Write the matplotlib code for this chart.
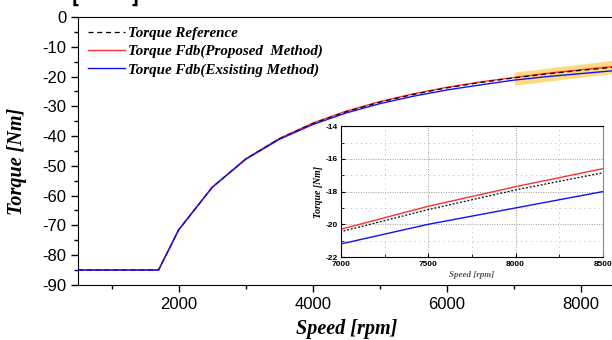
import matplotlib
matplotlib.use('Agg')
import matplotlib.pyplot as plt
from matplotlib.ticker import MultipleLocator

plt.rcParams['axes.unicode_minus'] = False

# 回転数 [rpm]
speed = [500, 1700, 2000, 2500, 3000, 3500, 4000, 4500, 5000, 5500, 6000, 6500, 7000, 7500, 8000, 8500]
# トルク指令 / 提案手法 / 既存手法 [Nm]
torque_ref = [-85, -85, -71.5, -57.2, -47.7, -40.9, -35.8, -31.8, -28.6, -26.0, -23.8, -22.0, -20.45, -19.1, -17.9, -16.85]
torque_prop = [-85, -85, -71.5, -57.2, -47.6, -40.8, -35.6, -31.6, -28.4, -25.8, -23.6, -21.8, -20.3, -18.9, -17.7, -16.6]
torque_exist = [-85, -85, -71.5, -57.2, -47.8, -41.1, -36.1, -32.2, -29.1, -26.6, -24.5, -22.8, -21.2, -20.0, -19.0, -18.0]

# 拡大範囲のハイライト
hl_speed = [7000, 8500]
hl_low = [-22.9, -18.9]
hl_high = [-18.5, -14.5]

serif = 'Liberation Serif'

fig = plt.figure(figsize=(6.12, 3.4), dpi=100)
ax = fig.add_axes([0.1275, 0.162, 0.877, 0.788])

ax.fill_between(hl_speed, hl_low, hl_high, color='#ffc83c', alpha=0.65, lw=0, zorder=1)
ax.plot(speed, torque_ref, 'k--', lw=0.9, dashes=(4, 3), label='Torque Reference', zorder=3)
ax.plot(speed, torque_prop, color='#ff3030', lw=1.0, label='Torque Fdb(Proposed  Method)', zorder=2)
ax.plot(speed, torque_exist, color='#1010ff', lw=1.0, label='Torque Fdb(Exsisting Method)', zorder=4)

ax.set_xlim(500, 8500)
ax.set_ylim(-90, 0)
ax.xaxis.set_major_locator(MultipleLocator(2000))
ax.xaxis.set_minor_locator(MultipleLocator(1000))
ax.yaxis.set_major_locator(MultipleLocator(10))
ax.yaxis.set_minor_locator(MultipleLocator(5))
ax.tick_params(axis='both', which='major', direction='out', labelsize=12, length=5, width=1)
ax.tick_params(axis='both', which='minor', direction='out', length=3, width=1)
for lab in ax.get_xticklabels() + ax.get_yticklabels():
    lab.set_fontfamily('Liberation Sans')
ax.spines['right'].set_visible(False)

ax.set_xlabel('Speed [rpm]', fontsize=14.5, fontfamily=serif, fontweight='bold', fontstyle='italic', labelpad=5)
ax.set_ylabel('Torque [Nm]', fontsize=14.5, fontfamily=serif, fontweight='bold', fontstyle='italic')
ax.yaxis.set_label_coords(-0.095, 0.46)

leg = ax.legend(loc='upper left', frameon=False, handlelength=2.5, handletextpad=0.2,
                labelspacing=0.3, borderaxespad=0.35, borderpad=0.3,
                prop={'family': serif, 'weight': 'bold', 'style': 'italic', 'size': 10.8})

# 上端で切れたラベル
fig.text(0.118, 1.005, '[         ]', fontsize=12, fontweight='bold', va='center', ha='left')

# 拡大図
axi = fig.add_axes([0.557, 0.244, 0.428, 0.385])
axi.plot(speed, torque_ref, color='k', ls=(0, (1.5, 1.5)), lw=0.9, zorder=4)
axi.plot(speed, torque_prop, color='#ff3030', lw=1.0, zorder=2)
axi.plot(speed, torque_exist, color='#1010ff', lw=1.0, zorder=3)
axi.set_xlim(7000, 8500)
axi.set_ylim(-22, -14)
axi.xaxis.set_major_locator(MultipleLocator(500))
axi.xaxis.set_minor_locator(MultipleLocator(250))
axi.yaxis.set_major_locator(MultipleLocator(2))
axi.yaxis.set_minor_locator(MultipleLocator(1))
axi.grid(which='major', color='#999999', ls=(0, (1, 1.5)), lw=0.7)
axi.grid(which='minor', color='#bbbbbb', ls=(0, (1, 4)), lw=0.7)
axi.tick_params(axis='both', which='major', direction='in', labelsize=6, length=3, pad=2)
axi.tick_params(axis='x', which='major', pad=3)
axi.tick_params(axis='both', which='minor', direction='in', length=2)
for lab in axi.get_xticklabels() + axi.get_yticklabels():
    lab.set_fontweight('bold')
    lab.set_fontfamily('Liberation Sans')
for s in axi.spines.values():
    s.set_linewidth(0.8)
axi.spines['right'].set_color('#888888')
axi.set_xlabel('Speed [rpm]', fontsize=6.5, fontfamily=serif, fontweight='bold', fontstyle='italic',
               color='#555555', labelpad=2)
axi.set_ylabel('Torque [Nm]', fontsize=7, fontfamily=serif, fontweight='bold', fontstyle='italic', labelpad=2)

fig.savefig('out.png', dpi=100)
